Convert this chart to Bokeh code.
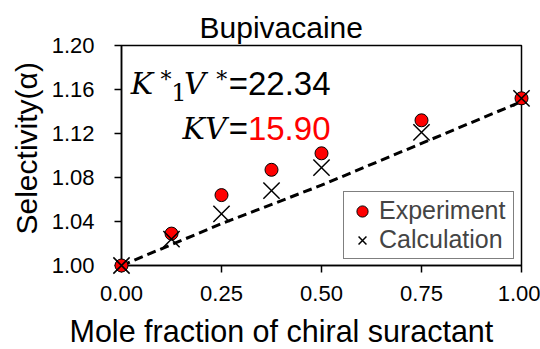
from bokeh.plotting import figure
from bokeh.models import (Legend, LegendItem, Label, Range1d, FixedTicker,
                          NumeralTickFormatter, Title)
from bokeh.embed import file_html
from bokeh.resources import INLINE

# ---- data ----
mole_fraction = [0.0, 0.125, 0.25, 0.375, 0.5, 0.75, 1.0]
experiment = [1.000, 1.029, 1.064, 1.087, 1.102, 1.132, 1.152]
calculation = [1.000, 1.024, 1.047, 1.068, 1.089, 1.121, 1.152]
fit_x = [0.0, 0.25, 0.5, 0.75, 1.0]
fit_y = [1.000, 1.038, 1.073, 1.111, 1.149]
x_ticks = [0.0, 0.25, 0.5, 0.75, 1.0]
y_ticks = [1.00, 1.04, 1.08, 1.12, 1.16, 1.20]

FONT = "Liberation Sans"
SERIF = "DejaVu Serif"

p = figure(width=540, height=349, output_backend="svg", toolbar_location=None,
           x_range=Range1d(0, 1), y_range=Range1d(1.0, 1.2),
           min_border_left=121, min_border_right=19,
           min_border_top=45, min_border_bottom=84,
           background_fill_color="white", border_fill_color="white")

p.xgrid.visible = False
p.ygrid.visible = False
p.outline_line_color = "black"
p.outline_line_width = 1.5

for ax in (p.xaxis[0], p.yaxis[0]):
    ax.axis_line_color = "black"
    ax.axis_line_width = 1.5
    ax.major_tick_line_color = "black"
    ax.major_tick_line_width = 1.5
    ax.major_tick_in = 0
    ax.major_tick_out = 7
    ax.minor_tick_line_color = None
    ax.major_label_text_font = FONT
    ax.major_label_text_font_size = "22px"
    ax.major_label_text_color = "black"
    ax.formatter = NumeralTickFormatter(format="0.00")

p.xaxis.ticker = FixedTicker(ticks=x_ticks)
p.yaxis.ticker = FixedTicker(ticks=y_ticks)
p.xaxis.major_label_standoff = 13
p.yaxis.major_label_standoff = 20

# titles (chart title and axis titles)
p.add_layout(Title(text="Bupivacaine", align="left", offset=78, standoff=4,
                   text_font=FONT, text_font_size="30px", text_font_style="normal",
                   text_color="black"), "above")
# small spacer between the tick labels and the x-axis title
p.add_layout(Title(text=" ", text_font_size="1px", standoff=4), "below")
p.add_layout(Title(text="Mole fraction of chiral suractant", align="left", offset=-52,
                   standoff=3, text_font=FONT, text_font_size="30.5px",
                   text_font_style="normal", text_color="black"), "below")
p.add_layout(Title(text="Selectivity(α)", align="left", offset=31, standoff=12,
                   text_font=FONT, text_font_size="30px", text_font_style="normal",
                   text_color="black"), "left")

p.line(fit_x, fit_y, line_color="black", line_width=3, line_dash="9 5")
r_exp = p.scatter(mole_fraction, experiment, marker="circle", size=13,
                  fill_color="red", line_color="black", line_width=1, level="overlay")
r_calc = p.scatter(mole_fraction, calculation, marker="x", size=23,
                   line_color="black", line_width=1.5, level="overlay")

legend = Legend(items=[LegendItem(label="Experiment", renderers=[r_exp]),
                       LegendItem(label="Calculation", renderers=[r_calc])],
                location=(222, 6), padding=4, spacing=0, margin=0,
                label_height=28, label_width=130, glyph_height=28, glyph_width=28,
                label_standoff=3,
                label_text_font=FONT, label_text_font_size="25px",
                border_line_color="black", border_line_width=1.5,
                background_fill_color="white", background_fill_alpha=1)
p.add_layout(legend, "center")

# ---- equations ----
def lab(x, y, text, size, font=FONT, style="normal", color="black", align="left"):
    p.add_layout(Label(x=x, y=y, text=text, text_font=font, text_font_size=size,
                       text_font_style=style, text_color=color, text_align=align,
                       text_baseline="alphabetic"))

lab(0.023, 1.1652, "K", "30px", font=SERIF, style="italic")
lab(0.111, 1.1695, "*", "22px", font=SERIF, align="center")
lab(0.1433, 1.1575, "1", "24px", font=SERIF, align="center")
lab(0.156, 1.1652, "V", "30px", font=SERIF, style="italic")
lab(0.2508, 1.1695, "*", "22px", font=SERIF, align="center")
lab(0.268, 1.1652, "=22.34", "33px")

lab(0.263, 1.1243, "KV", "30px", font=SERIF, style="italic", align="right")
lab(0.268, 1.1243, "=", "33px")
lab(0.316, 1.1243, "15.90", "33px", color="red")

open("out.html", "w").write(file_html(p, INLINE))
